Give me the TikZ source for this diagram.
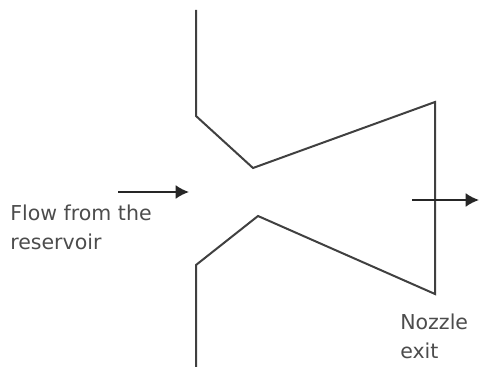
\documentclass[tikz,border=0pt]{standalone}
\usepackage{fontspec}
\setmainfont{DejaVu Sans}
\usetikzlibrary{arrows.meta}
\tikzset{wall/.style={draw=black!75,line width=1.5pt,line join=miter},
flow/.style={draw=black!85,line width=1.5pt,-{Latex[length=10pt,width=10.5pt]}},
lbl/.style={font=\fontsize{15.4pt}{21.75pt}\selectfont,text=black!70,align=left,inner sep=0pt}}
\begin{document}
\begin{tikzpicture}[x=0.75pt,y=-0.75pt]
\useasboundingbox (0,0) rectangle (479,367);
\draw[wall] (196,10) -- (196,116) -- (253,168) -- (435,102) -- (435,294) -- (258,216) -- (196,265) -- (196,367);
\coordinate (a1) at (118,192); \coordinate (a2) at (189,192);
\coordinate (b1) at (412,200); \coordinate (b2) at (479,200);
\draw[flow] (a1) -- (a2);
\draw[flow] (b1) -- (b2);
\node[lbl,anchor=north west] (t1) at (10,205) {Flow from the\\reservoir};
\node[lbl,anchor=north west] (t2) at (400,314) {Nozzle\\exit};
\end{tikzpicture}
\end{document}
